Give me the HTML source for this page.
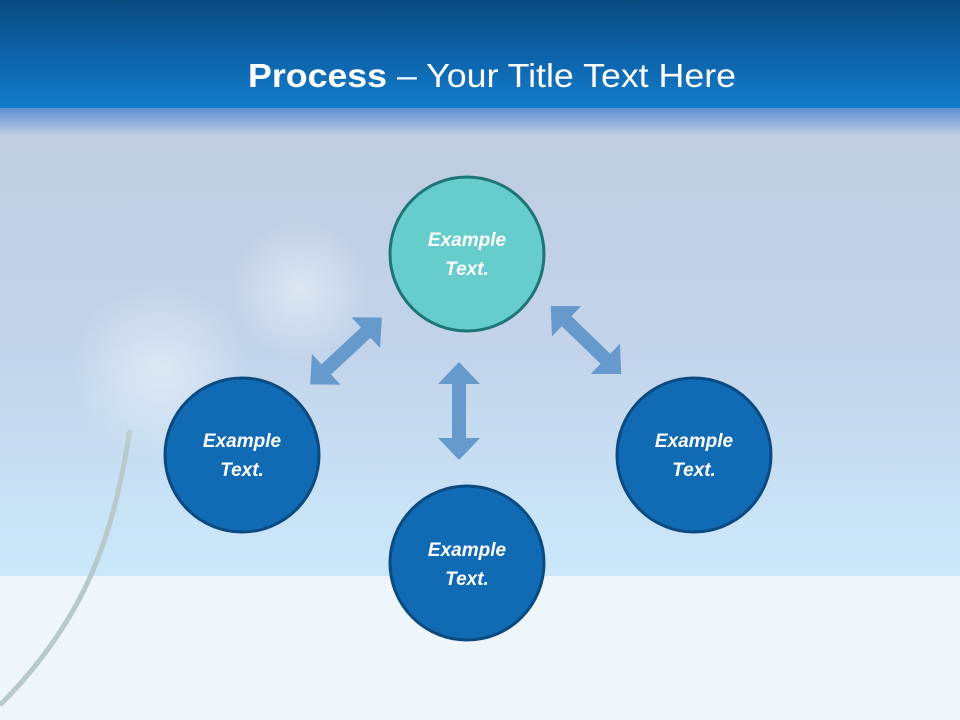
<!DOCTYPE html>
<html><head><style>
html,body{margin:0;padding:0;width:960px;height:720px;overflow:hidden}
</style></head><body>
<svg width="960" height="720" xmlns="http://www.w3.org/2000/svg">
<defs>
<linearGradient id="top" x1="0" y1="0" x2="0" y2="1">
<stop offset="0" stop-color="#0a4a7f"/>
<stop offset="0.5" stop-color="#0d62a8"/>
<stop offset="1" stop-color="#137ccb"/>
</linearGradient>
<linearGradient id="sky" x1="0" y1="0" x2="0" y2="1">
<stop offset="0" stop-color="#5c8fd2"/>
<stop offset="0.06" stop-color="#c0cde2"/>
<stop offset="0.5" stop-color="#c2d3ea"/>
<stop offset="1" stop-color="#cbe8fb"/>
</linearGradient>
<radialGradient id="puff">
<stop offset="0" stop-color="#ffffff" stop-opacity="0.45"/>
<stop offset="1" stop-color="#ffffff" stop-opacity="0"/>
</radialGradient>
<polygon id="dbl" points="-49,0 -27,-21 -27,-7 27,-7 27,-21 49,0 27,21 27,7 -27,7 -27,21" fill="#6699cc"/>
</defs>
<rect x="0" y="0" width="960" height="108" fill="url(#top)"/>
<rect x="0" y="108" width="960" height="468" fill="url(#sky)"/>
<rect x="0" y="576" width="960" height="144" fill="#eef5fb"/>
<path d="M130,430 C115,520 95,610 0,705" stroke="#b8c9cc" stroke-width="5" fill="none"/>
<circle cx="160" cy="370" r="90" fill="url(#puff)"/>
<circle cx="300" cy="290" r="70" fill="url(#puff)"/>
<text x="492" y="87" text-anchor="middle" font-family="'Liberation Sans',sans-serif" font-size="33" fill="#fff" textLength="488" lengthAdjust="spacingAndGlyphs"><tspan font-weight="bold">Process</tspan> – Your Title Text Here</text>
<use href="#dbl" transform="translate(459,411) rotate(90)"/>
<use href="#dbl" transform="translate(346,351) rotate(-43)"/>
<use href="#dbl" transform="translate(586,340) rotate(44)"/>
<g font-family="'Liberation Sans',sans-serif" font-size="19" font-weight="bold" font-style="italic" fill="#fff" text-anchor="middle">
<circle cx="467" cy="254" r="77" fill="#66cccc" stroke="#1e7575" stroke-width="3"/>
<text x="467" y="246">Example</text><text x="467" y="275">Text.</text>
<circle cx="242" cy="455" r="77" fill="#116ab4" stroke="#0b4a80" stroke-width="3"/>
<text x="242" y="447">Example</text><text x="242" y="476">Text.</text>
<circle cx="467" cy="563" r="77" fill="#116ab4" stroke="#0b4a80" stroke-width="3"/>
<text x="467" y="556">Example</text><text x="467" y="585">Text.</text>
<circle cx="694" cy="455" r="77" fill="#116ab4" stroke="#0b4a80" stroke-width="3"/>
<text x="694" y="447">Example</text><text x="694" y="476">Text.</text>
</g>
</svg>
</body></html>
